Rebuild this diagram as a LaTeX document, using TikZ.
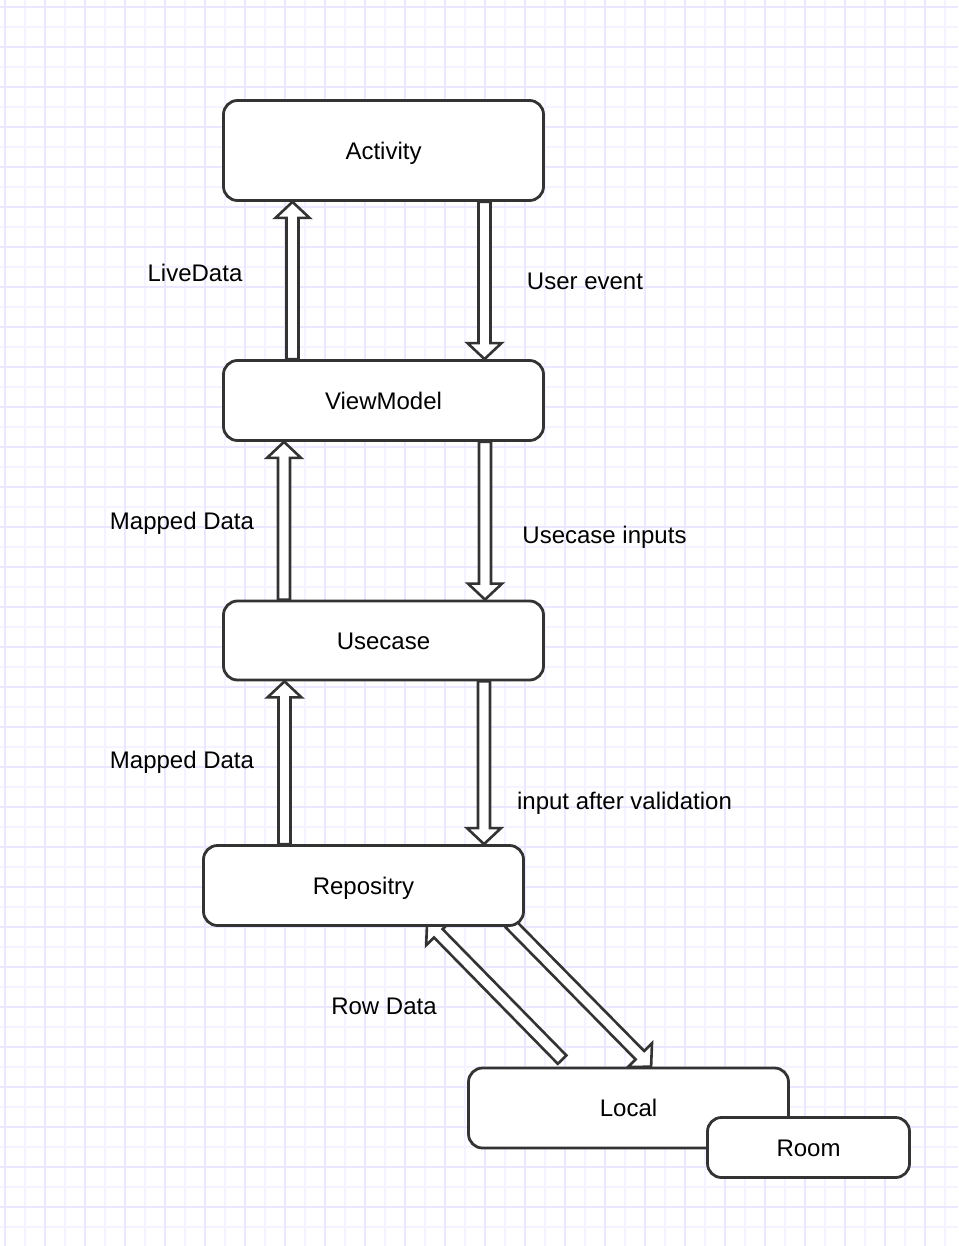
\documentclass[tikz,border=0pt]{standalone}
\usepackage{fontspec}
\setmainfont{Liberation Sans}
\usetikzlibrary{calc}
\definecolor{gmaj}{RGB}{234,232,255}
\definecolor{gmin}{RGB}{244,243,255}
\definecolor{ink}{RGB}{51,51,51}
\newcommand{\hollowarrow}[2]{%
  \coordinate (hb) at ($(#2)!16pt!(#1)$);
  \draw[harrow] ($(#1)!6pt!90:(#2)$) -- ($(hb)!6pt!90:(#2)$) -- ($(hb)!17pt!90:(#2)$)
    -- (#2) -- ($(hb)!17pt!-90:(#2)$) -- ($(hb)!6pt!-90:(#2)$) -- ($(#1)!6pt!-90:(#2)$) -- cycle;
}
\begin{document}
\begin{tikzpicture}[x=1pt,y=-1pt,
  blk/.style={draw=ink,fill=white,line width=2.8pt,rounded corners=14pt,inner sep=0pt,
    font=\fontsize{24}{28}\selectfont,text height=17.2pt,text depth=0pt},
  lbl/.style={inner sep=0pt,font=\fontsize{24}{28}\selectfont,text height=17.2pt,text depth=0pt},
  harrow/.style={draw=ink,fill=white,line width=2.6pt,line join=miter},
  gmajor/.style={draw=gmaj,line width=1.6pt},
  gminor/.style={draw=gmin,line width=1.6pt}]
\fill[white] (0,0) rectangle (958,1246);
\useasboundingbox (0,0) rectangle (958,1246);
% grid
\foreach \x in {25,65,...,958} \draw[gminor] (\x,0) -- (\x,1246);
\foreach \y in {27,67,...,1246} \draw[gminor] (0,\y) -- (958,\y);
\foreach \x in {5,45,...,958} \draw[gmajor] (\x,0) -- (\x,1246);
\foreach \y in {7,47,...,1246} \draw[gmajor] (0,\y) -- (958,\y);

% node placement (invisible first pass for anchors)
\path (383.5,150.5) node[blk,draw=none,fill=none,minimum width=320pt,minimum height=100pt] (act) {}
      (383.5,400.5) node[blk,draw=none,fill=none,minimum width=320pt,minimum height=80pt] (vm) {}
      (383.5,640.5) node[blk,draw=none,fill=none,minimum width=320pt,minimum height=79pt] (uc) {}
      (363.5,885.5) node[blk,draw=none,fill=none,minimum width=320pt,minimum height=80pt] (rep) {}
      (628.5,1108) node[blk,draw=none,fill=none,minimum width=320pt,minimum height=80pt] (loc) {}
      (808.5,1147.5) node[blk,draw=none,fill=none,minimum width=202pt,minimum height=60pt] (room) {};

% arrow end points
\coordinate (a1t) at ($(vm.north)+(-91,0)$);
\coordinate (a1h) at ($(act.south)+(-91,0)$);
\coordinate (a2t) at ($(act.south)+(101,0)$);
\coordinate (a2h) at ($(vm.north)+(101,0)$);
\coordinate (a3t) at ($(uc.north)+(-99.5,0)$);
\coordinate (a3h) at ($(vm.south)+(-99.5,0)$);
\coordinate (a4t) at ($(vm.south)+(101.5,0)$);
\coordinate (a4h) at ($(uc.north)+(101.5,0)$);
\coordinate (a5t) at ($(rep.north)+(-79,0)$);
\coordinate (a5h) at ($(uc.south)+(-99,0)$);
\coordinate (a6t) at ($(uc.south)+(100.5,0)$);
\coordinate (a6h) at ($(rep.north)+(120.5,0)$);
\coordinate (a7t) at ($(loc.north west)+(95,-7)$);
\coordinate (a7h) at ($(rep.south west)+(225,-5)$);
\coordinate (a8t) at ($(rep.south west)+(308,-3.5)$);
\coordinate (a8h) at ($(loc.north west)+(184,0)$);

\hollowarrow{a1t}{a1h}
\hollowarrow{a2t}{a2h}
\hollowarrow{a3t}{a3h}
\hollowarrow{a4t}{a4h}
\hollowarrow{a5t}{a5h}
\hollowarrow{a6t}{a6h}
\hollowarrow{a7t}{a7h}
\hollowarrow{a8t}{a8h}

% boxes
\node[blk,minimum width=320pt,minimum height=100pt] at (act) {Activity};
\node[blk,minimum width=320pt,minimum height=80pt] at (vm) {ViewModel};
\node[blk,minimum width=320pt,minimum height=79pt] at (uc) {Usecase};
\node[blk,minimum width=320pt,minimum height=80pt] at (rep) {Repositry};
\node[blk,minimum width=320pt,minimum height=80pt] at (loc) {Local};
\node[blk,minimum width=202pt,minimum height=60pt] at (room) {Room};

% labels
\node[lbl] (l1) at (195,273) {LiveData};
\node[lbl] (l2) at (585,281) {User event};
\node[lbl] (l3) at (182,521) {Mapped Data};
\node[lbl] (l4) at (604.5,534.5) {Usecase inputs};
\node[lbl] (l5) at (182,759.5) {Mapped Data};
\node[lbl] (l6) at (624.5,800.5) {input after validation};
\node[lbl] (l7) at (384,1006) {Row Data};
\end{tikzpicture}
\end{document}
